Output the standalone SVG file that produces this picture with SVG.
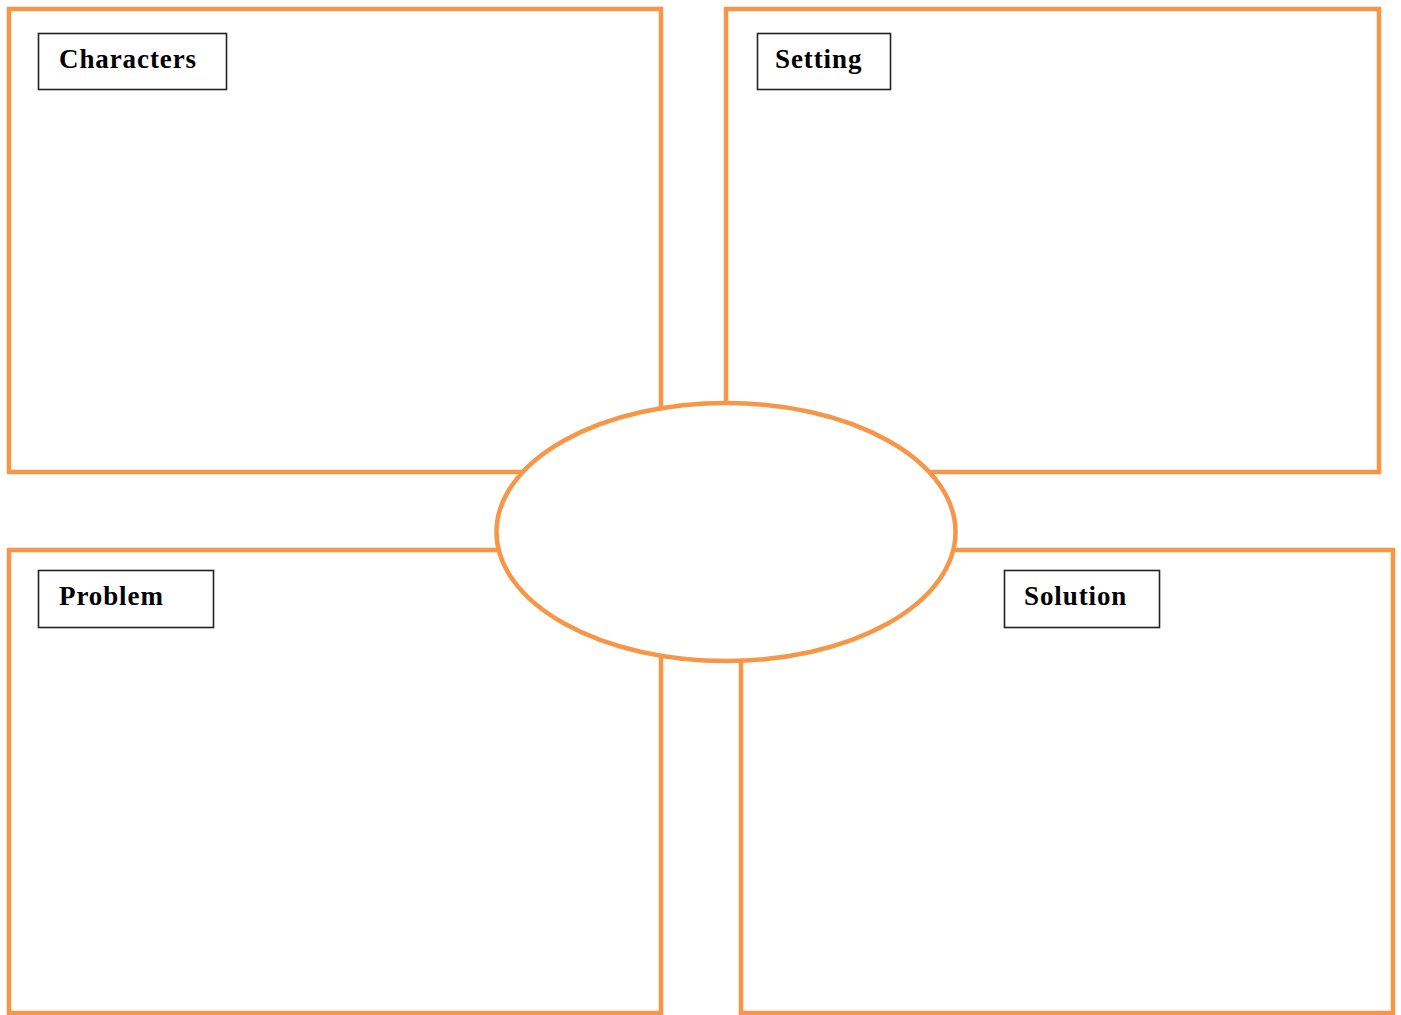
<svg xmlns="http://www.w3.org/2000/svg" width="1401" height="1015" viewBox="0 0 1401 1015">
<style>
.panel{fill:#ffffff;stroke:#F79646;stroke-width:4.5}
.lbl{fill:#ffffff;stroke:#222222;stroke-width:1.6}
.txt{font-family:"Liberation Serif","Times New Roman",serif;font-weight:bold;font-size:27px;letter-spacing:0.9px;fill:#000000}
</style>
<rect width="1401" height="1015" fill="#ffffff"/>
<g id="characters">
<rect class="panel" x="9" y="9" width="652" height="463"/>
<rect class="lbl" x="38.5" y="33.5" width="188" height="56"/>
<text class="txt" x="59" y="68">Characters</text>
</g>
<g id="setting">
<rect class="panel" x="726" y="9" width="653" height="463"/>
<rect class="lbl" x="757.5" y="33.5" width="133" height="56"/>
<text class="txt" x="775" y="68">Setting</text>
</g>
<g id="problem">
<rect class="panel" x="9" y="550" width="652" height="463"/>
<rect class="lbl" x="38.5" y="570.5" width="175" height="57"/>
<text class="txt" x="59" y="605">Problem</text>
</g>
<g id="solution">
<rect class="panel" x="741" y="550" width="652" height="463"/>
<rect class="lbl" x="1004.5" y="570.5" width="155" height="57"/>
<text class="txt" x="1024" y="605">Solution</text>
</g>
<g id="center">
<ellipse class="panel" cx="726" cy="532" rx="229.5" ry="129"/>
</g>
<g id="connectors"></g>
</svg>
